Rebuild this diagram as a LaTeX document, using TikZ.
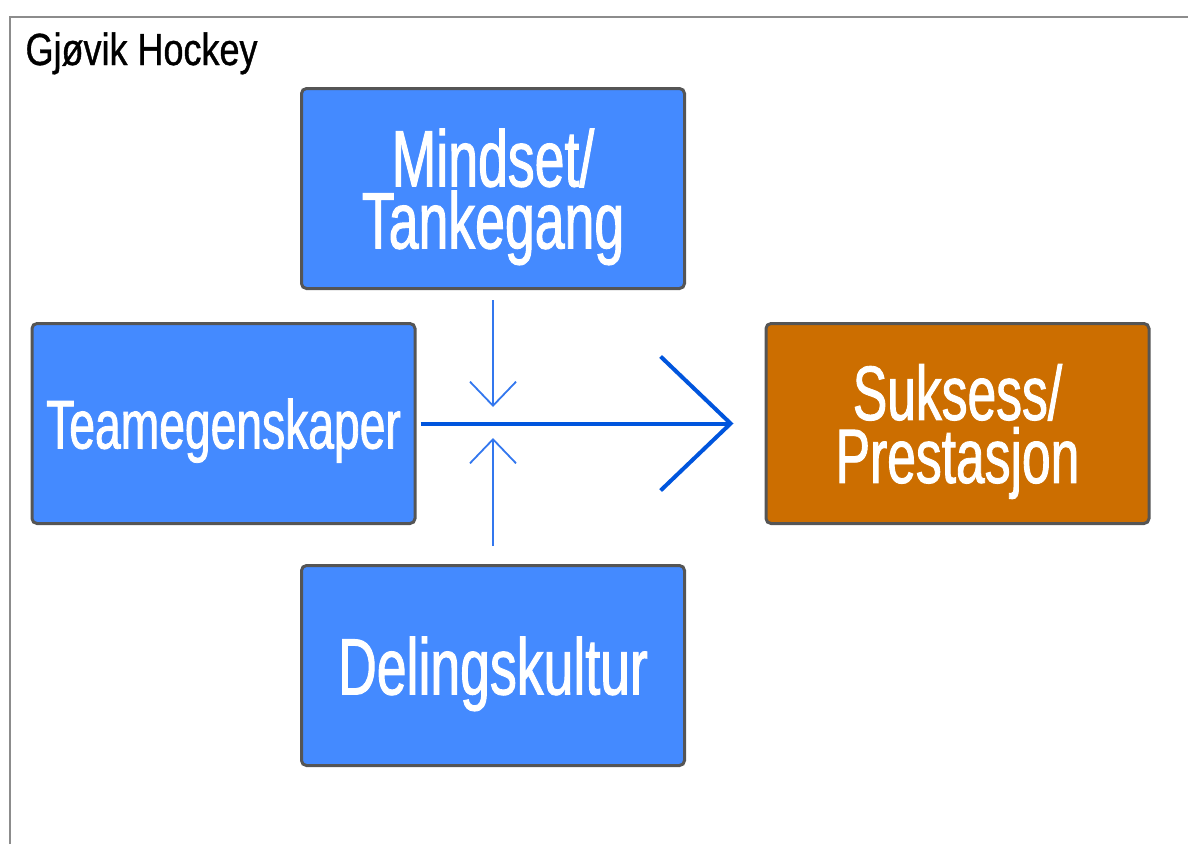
\documentclass[tikz,border=0pt]{standalone}
\usepackage{fontspec}
\newfontfamily\boxfont{Liberation Sans}[FakeStretch=0.67,FakeBold=1.2]
\newfontfamily\titlefont{Liberation Sans}[FakeStretch=0.8,FakeBold=0.8]
\usetikzlibrary{arrows.meta}
\definecolor{boxblue}{RGB}{68,138,255}
\definecolor{boxorange}{RGB}{204,110,0}
\definecolor{boxline}{RGB}{85,85,85}
\definecolor{arrowblue}{RGB}{0,85,221}
\definecolor{feedblue}{RGB}{51,119,238}

\begin{document}
\begin{tikzpicture}[x=1pt,y=-1pt,
		factor/.style={draw=boxline,line width=3pt,rounded corners=5pt,fill=boxblue,text=white,minimum width=383pt,minimum height=200pt,inner sep=0pt,align=center,text depth=0pt,font=\boxfont\fontsize{80}{62}\selectfont},
		result/.style={factor,fill=boxorange,font=\boxfont\fontsize{77}{63}\selectfont},
		feed/.style={draw=feedblue,line width=1.8pt,-{Straight Barb[length=24pt,width=46pt]}},
		main/.style={draw=arrowblue,line width=4pt,-{Straight Barb[length=70pt,width=134pt]}}]
				\useasboundingbox (0,0) rectangle (1188,844);
				\draw[black!45,line width=1.5pt] (10,844) -- (10,17) -- (1188,17);
				
				\node[anchor=base west,font=\titlefont\fontsize{45}{45}\selectfont] (title) at (22,65) {Gjøvik Hockey};
				
				\node[factor] (mindset) at (493,188.5) {Mindset/\\Tankegang};
				\node[factor,font=\boxfont\fontsize{69}{69}\selectfont] (team) at (223.5,423.5) {Teamegenskaper};
				\node[factor] (deling) at (493,665.5) {Delingskultur};
				\node[result] (suksess) at (957.5,423.5) {Suksess/\\Prestasjon};
				
				\coordinate (hub) at (493,424);
				\draw[feed,shorten <=10pt,shorten >=17pt] (mindset.south) -- (hub);
				\draw[feed,shorten <=18pt,shorten >=14pt] (deling.north) -- (hub);
				\draw[main,shorten <=4pt,shorten >=31pt] (team.east) -- (suksess.west);
			\end{tikzpicture}
\end{document}
